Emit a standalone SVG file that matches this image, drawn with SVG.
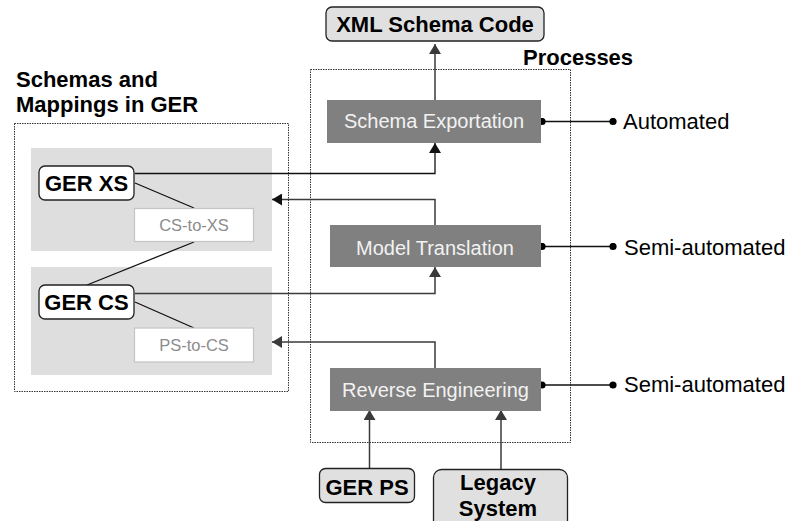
<svg xmlns="http://www.w3.org/2000/svg" width="791" height="521" viewBox="0 0 791 521">
  <style>
    .bold { font-family: "Liberation Sans", Arial, sans-serif; font-weight: bold; font-size: 22px; fill: #000; }
    .proc-label { font-family: "Liberation Sans", Arial, sans-serif; font-size: 20px; fill: #f2f2f2; }
    .map-label { font-family: "Liberation Sans", Arial, sans-serif; font-size: 16.5px; fill: #8c8c8c; }
    .level { font-family: "Liberation Sans", Arial, sans-serif; font-size: 22px; fill: #000; }
    .frame { fill: none; stroke: #333; stroke-width: 1; stroke-dasharray: 1.5 1; }
    .panel { fill: #dedede; }
    .schema { fill: #ffffff; stroke: #222; stroke-width: 1.3; }
    .artifact { fill: #e0e0e0; stroke: #222; stroke-width: 1.3; }
    .mapping { fill: #ffffff; stroke: #c4c4c4; stroke-width: 1.2; }
    .process { fill: #808080; }
    .link { fill: none; stroke: #111; stroke-width: 1.3; }
    .flow { fill: none; stroke: #3a3a3a; stroke-width: 1.5; }
  </style>
  <defs>
    <marker id="tip-dark" viewBox="0 0 10 12" refX="10" refY="6" markerWidth="10" markerHeight="12" markerUnits="userSpaceOnUse" orient="auto">
      <path d="M0,0 L10,6 L0,12 z" fill="#111"/>
    </marker>
    <marker id="tip-grey" viewBox="0 0 10 12" refX="10" refY="6" markerWidth="10" markerHeight="12" markerUnits="userSpaceOnUse" orient="auto">
      <path d="M0,0 L10,6 L0,12 z" fill="#3a3a3a"/>
    </marker>
    <marker id="dot" viewBox="0 0 8 8" refX="4" refY="4" markerWidth="8" markerHeight="8" markerUnits="userSpaceOnUse">
      <circle cx="4" cy="4" r="3.6" fill="#000"/>
    </marker>
  </defs>

  <!-- Schemas and mappings frame -->
  <g id="schemas-frame">
    <text class="bold" x="16" y="87">Schemas and</text>
    <text class="bold" x="16" y="112">Mappings in GER</text>
    <rect class="frame" x="14.5" y="123.5" width="274" height="268"/>
    <rect class="panel" x="31" y="148" width="241" height="103"/>
    <rect class="panel" x="31" y="267" width="241" height="108"/>
  </g>

  <!-- Processes frame -->
  <g id="processes-frame">
    <text class="bold" x="523" y="65">Processes</text>
    <rect class="frame" x="310.5" y="69.5" width="260" height="373"/>
  </g>

  <!-- Connectors -->
  <g id="connectors">
    <!-- schema-to-mapping links -->
    <line class="link" x1="135" y1="183" x2="194" y2="208"/>
    <line class="link" x1="194" y1="242" x2="87" y2="285"/>
    <line class="link" x1="135" y1="302" x2="194" y2="328"/>
    <!-- GER XS into Schema Exportation -->
    <polyline class="link" points="135,173.5 435,173.5 435,143" marker-end="url(#tip-dark)"/>
    <!-- Model Translation result into XS panel -->
    <polyline class="flow" points="435,225 435,199.5 272,199.5" marker-end="url(#tip-dark)"/>
    <!-- GER CS into Model Translation -->
    <polyline class="flow" points="135,293.5 435,293.5 435,267" marker-end="url(#tip-grey)"/>
    <!-- Reverse Engineering result into CS panel -->
    <polyline class="flow" points="435,368 435,342 272,342" marker-end="url(#tip-grey)"/>
    <!-- Schema Exportation output -->
    <line class="flow" x1="435" y1="100" x2="435" y2="44" marker-end="url(#tip-grey)"/>
    <!-- inputs of Reverse Engineering -->
    <line class="flow" x1="369.5" y1="468" x2="369.5" y2="410" marker-end="url(#tip-grey)"/>
    <line class="flow" x1="501" y1="469" x2="501" y2="410" marker-end="url(#tip-grey)"/>
    <!-- automation levels -->
    <line class="link" x1="542" y1="121.5" x2="613" y2="121.5" marker-start="url(#dot)" marker-end="url(#dot)"/>
    <line class="link" x1="542" y1="246.5" x2="613" y2="246.5" marker-start="url(#dot)" marker-end="url(#dot)"/>
    <line class="link" x1="542" y1="385" x2="613" y2="385" marker-start="url(#dot)" marker-end="url(#dot)"/>
  </g>

  <!-- Schema nodes -->
  <g id="ger-xs">
    <rect class="schema" x="39" y="166" width="95" height="34" rx="6"/>
    <text class="bold" x="86.5" y="191" text-anchor="middle">GER XS</text>
  </g>
  <g id="cs-to-xs">
    <rect class="mapping" x="134.5" y="208.5" width="119" height="33"/>
    <text class="map-label" x="194" y="231" text-anchor="middle">CS-to-XS</text>
  </g>
  <g id="ger-cs">
    <rect class="schema" x="39" y="285" width="95" height="34" rx="6"/>
    <text class="bold" x="86.5" y="310" text-anchor="middle">GER CS</text>
  </g>
  <g id="ps-to-cs">
    <rect class="mapping" x="134.5" y="328" width="119" height="34"/>
    <text class="map-label" x="194" y="350.5" text-anchor="middle">PS-to-CS</text>
  </g>

  <!-- Process nodes -->
  <g id="schema-exportation">
    <rect class="process" x="327" y="100" width="214" height="43"/>
    <text class="proc-label" x="434" y="128" text-anchor="middle">Schema Exportation</text>
  </g>
  <g id="model-translation">
    <rect class="process" x="330" y="225" width="211" height="42"/>
    <text class="proc-label" x="435" y="254.5" text-anchor="middle">Model Translation</text>
  </g>
  <g id="reverse-engineering">
    <rect class="process" x="330" y="368" width="211" height="43"/>
    <text class="proc-label" x="435.5" y="396.5" text-anchor="middle">Reverse Engineering</text>
  </g>

  <!-- External artifacts -->
  <g id="xml-schema-code">
    <rect class="artifact" x="326" y="7" width="218" height="34" rx="6"/>
    <text class="bold" x="435" y="32" text-anchor="middle">XML Schema Code</text>
  </g>
  <g id="ger-ps">
    <rect class="artifact" x="319.5" y="468.5" width="95" height="34" rx="6"/>
    <text class="bold" x="367" y="494.5" text-anchor="middle">GER PS</text>
  </g>
  <g id="legacy-system">
    <rect class="artifact" x="433.5" y="469.5" width="134" height="60" rx="8"/>
    <text class="bold" x="498" y="490" text-anchor="middle">Legacy</text>
    <text class="bold" x="498" y="516" text-anchor="middle">System</text>
  </g>

  <!-- Automation levels -->
  <g id="levels">
    <text class="level" x="623" y="129">Automated</text>
    <text class="level" x="624" y="255">Semi-automated</text>
    <text class="level" x="624" y="392">Semi-automated</text>
  </g>
</svg>
